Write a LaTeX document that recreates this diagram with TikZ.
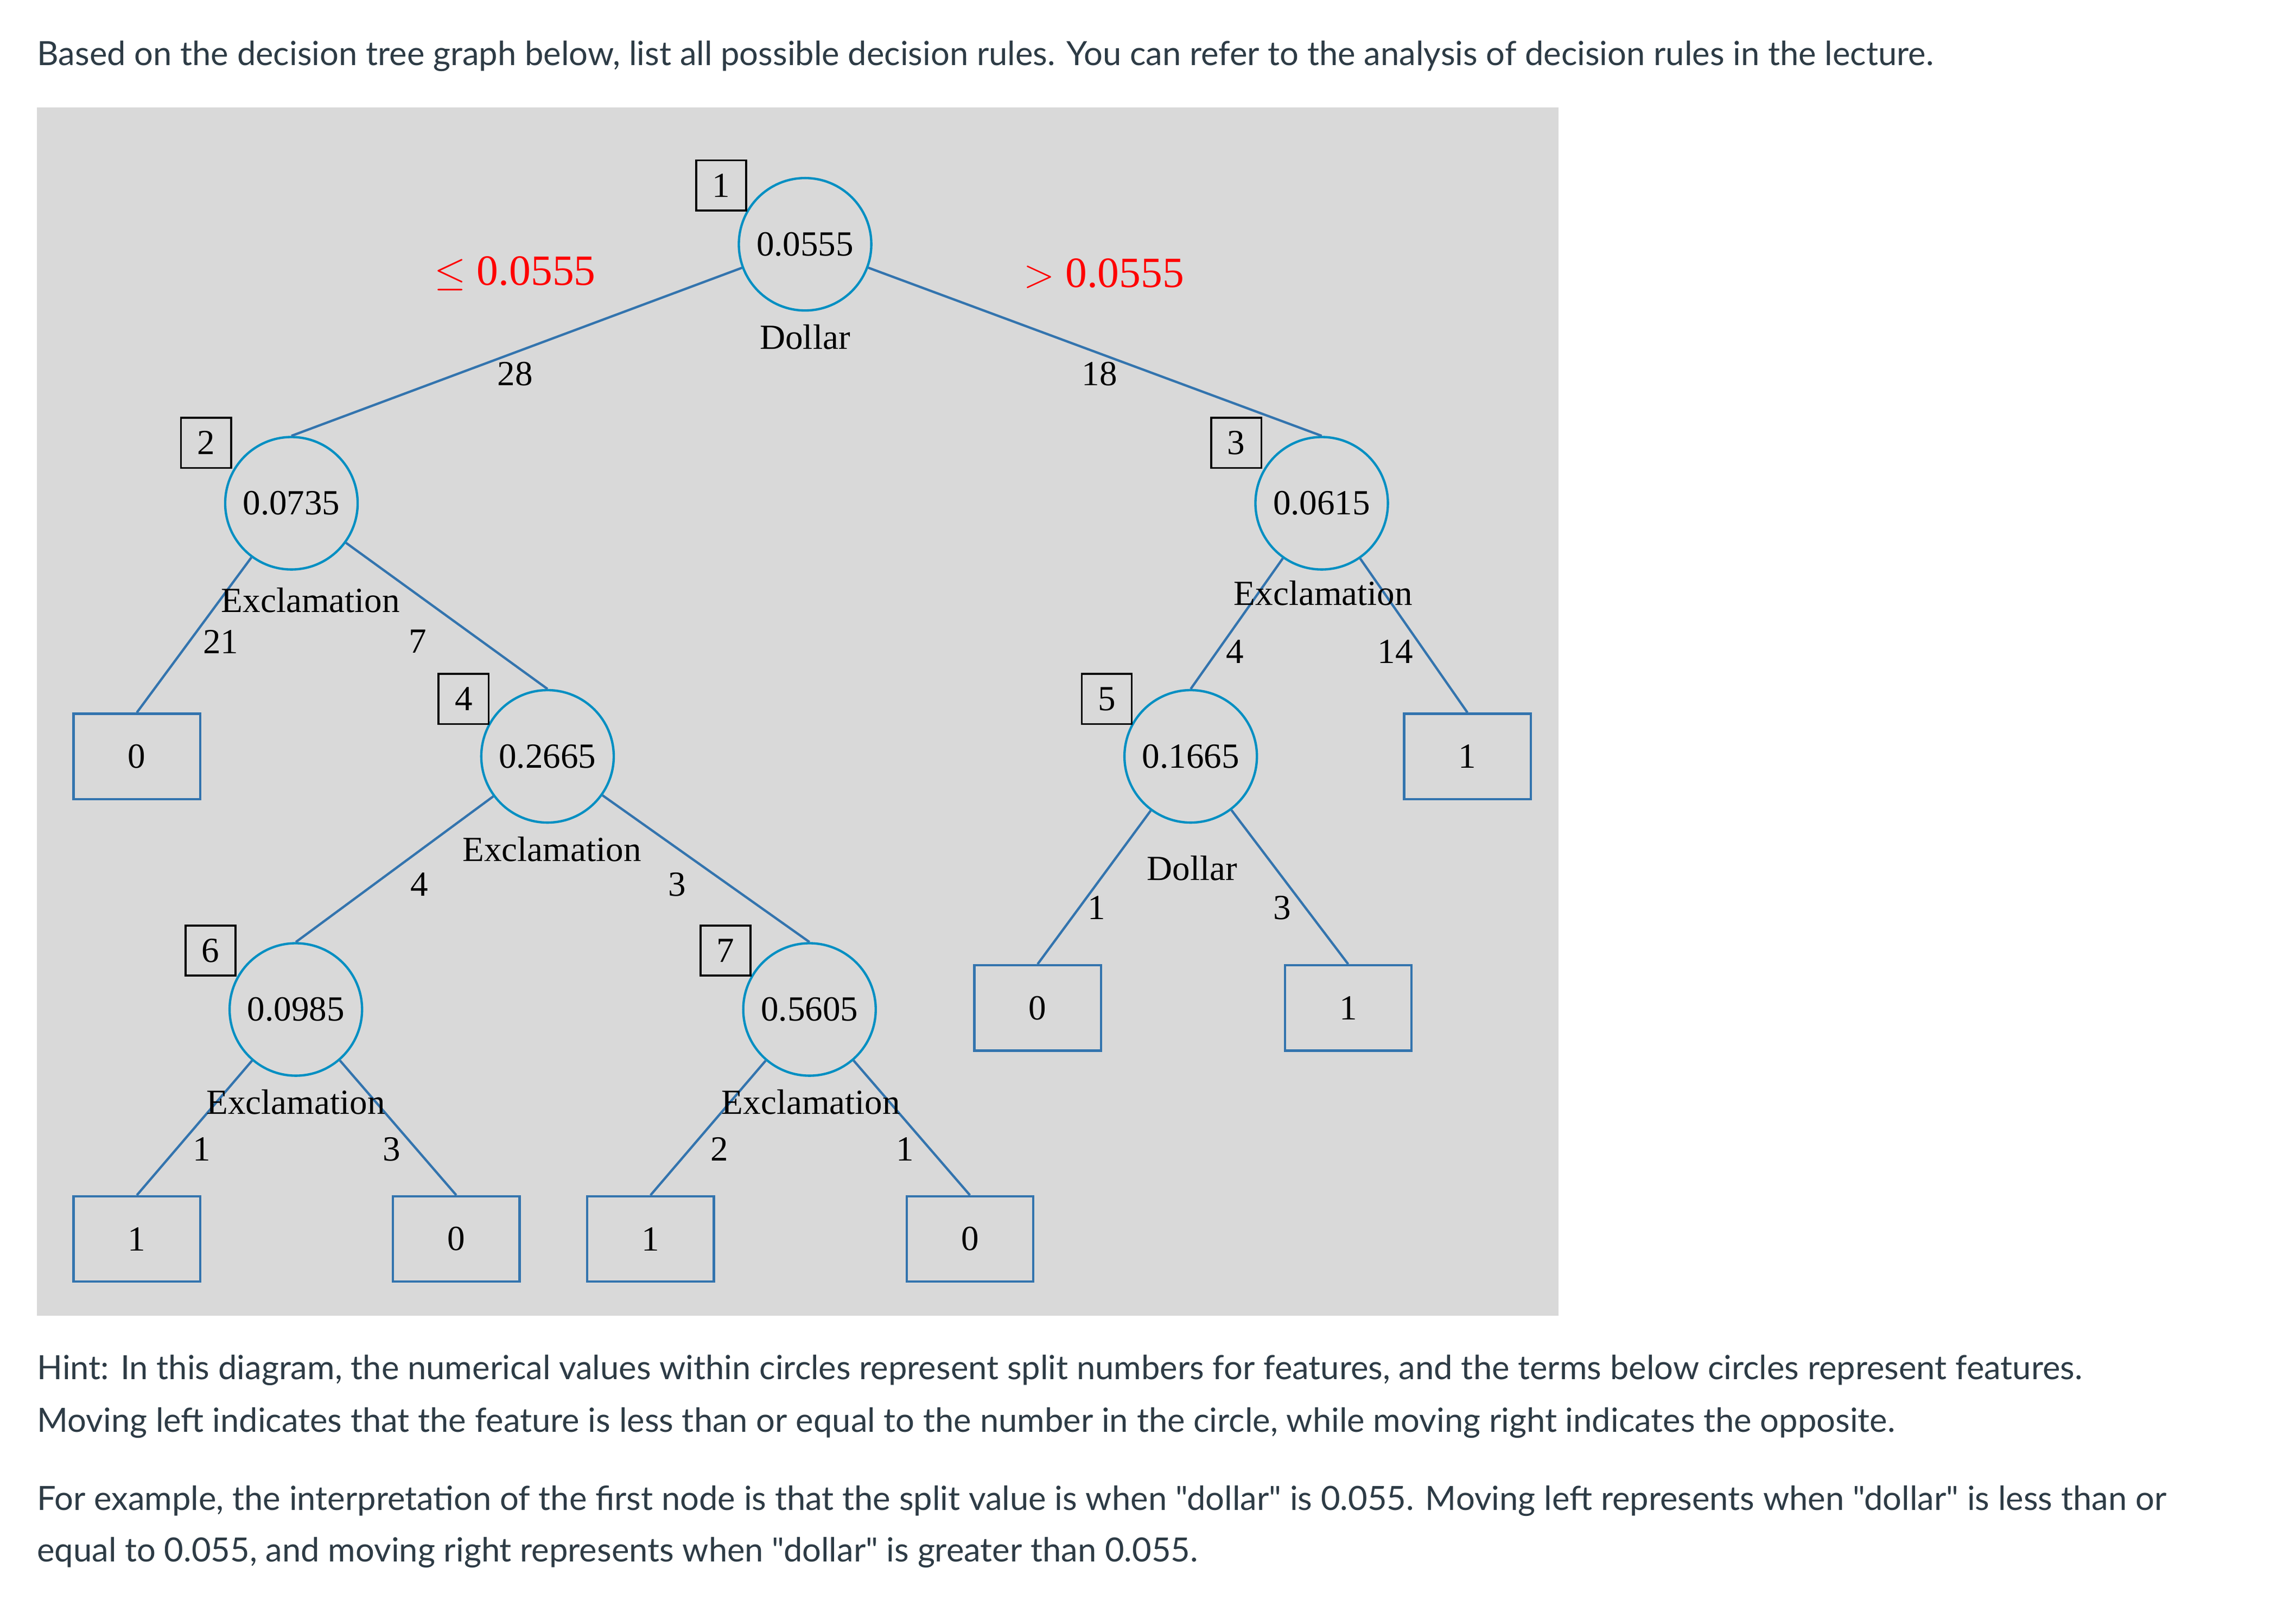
\documentclass[tikz,border=0pt]{standalone}
\usepackage{fontspec}
\setmainfont{Liberation Serif}
\newfontfamily\latofont{Lato}
\begin{document}
\begin{tikzpicture}[x=0.75pt,y=-0.75pt,
  circ/.style={circle,draw=teal!60!cyan!80!blue,line width=1.2pt,fill=none,minimum size=90*0.75pt,inner sep=0pt,font=\fontsize{18}{20}\selectfont},
  leaf/.style={rectangle,draw=cyan!60!blue!80!black,line width=1.2pt,minimum width=86*0.75pt,minimum height=58*0.75pt,inner sep=0pt,font=\fontsize{18}{20}\selectfont},
  idx/.style={rectangle,draw=black,line width=1pt,minimum size=34*0.75pt,inner sep=0pt,font=\fontsize{18}{20}\selectfont},
  lab/.style={font=\fontsize{18}{20}\selectfont,inner sep=0pt},
  red/.style={font=\fontsize{22}{24}\selectfont,text=red,inner sep=0pt},
  edge/.style={draw=cyan!60!blue!80!black,line width=1.2pt},
  body/.style={font=\latofont\fontsize{17}{20}\selectfont,text={rgb,255:red,45;green,59;blue,69},anchor=west,inner sep=0pt}]
\useasboundingbox (0,0) rectangle (1560,1087);
\fill[white] (0,0) rectangle (1560,1087);
\fill[gray!30] (25,73) rectangle (1059,894);
\node[body] (t1) at (25,38) {Based on the decision tree graph below, list all possible decision rules. You can refer to the analysis of decision rules in the lecture.};
\node[body] (t2) at (25,931) {Hint: In this diagram, the numerical values within circles represent split numbers for features, and the terms below circles represent features.};
\node[body] (t3) at (25,967) {Moving left indicates that the feature is less than or equal to the number in the circle, while moving right indicates the opposite.};
\node[body] (t4) at (25,1020) {For example, the interpretation of the first node is that the split value is when "dollar" is 0.055. Moving left represents when "dollar" is less than or};
\node[body] (t5) at (25,1055) {equal to 0.055, and moving right represents when "dollar" is greater than 0.055.};
% circles
\node[circ] (n1) at (547,166) {0.0555};
\node[circ] (n2) at (198,342) {0.0735};
\node[circ] (n3) at (898,342) {0.0615};
\node[circ] (n4) at (372,514) {0.2665};
\node[circ] (n5) at (809,514) {0.1665};
\node[circ] (n6) at (201,686) {0.0985};
\node[circ] (n7) at (550,686) {0.5605};
% leaves
\node[leaf] (a) at (93,514) {0};
\node[leaf] (b) at (997,514) {1};
\node[leaf] (c) at (705,685) {0};
\node[leaf] (d) at (916,685) {1};
\node[leaf] (e) at (93,842) {1};
\node[leaf] (f) at (310,842) {0};
\node[leaf] (g) at (442,842) {1};
\node[leaf] (h) at (659,842) {0};
% index boxes
\node[idx] (i1) at (490,126) {1};
\node[idx] (i2) at (140,301) {2};
\node[idx] (i3) at (840,301) {3};
\node[idx] (i4) at (315,475) {4};
\node[idx] (i5) at (752,475) {5};
\node[idx] (i6) at (143,646) {6};
\node[idx] (i7) at (493,646) {7};
% edges
\draw[edge] (n1) -- (n2.north);
\draw[edge] (n1) -- (n3.north);
\draw[edge] (n2) -- (a.north);
\draw[edge] (n2) -- (n4.north);
\draw[edge] (n3) -- (n5.north);
\draw[edge] (n3) -- (b.north);
\draw[edge] (n4) -- (n6.north);
\draw[edge] (n4) -- (n7.north);
\draw[edge] (n5) -- (c.north);
\draw[edge] (n5) -- (d.north);
\draw[edge] (n6) -- (e.north);
\draw[edge] (n6) -- (f.north);
\draw[edge] (n7) -- (g.north);
\draw[edge] (n7) -- (h.north);
% feature labels
\node[lab] (f1) at (547,229) {Dollar};
\node[lab] (f2) at (211,408) {Exclamation};
\node[lab] (f3) at (899,403) {Exclamation};
\node[lab] (f4) at (375,577) {Exclamation};
\node[lab] (f5) at (810,590) {Dollar};
\node[lab] (f6) at (201,749) {Exclamation};
\node[lab] (f7) at (551,749) {Exclamation};
% counts
\node[lab] (c1) at (350,254) {28};
\node[lab] (c2) at (747,254) {18};
\node[lab] (c3) at (150,436) {21};
\node[lab] (c4) at (284,436) {7};
\node[lab] (c5) at (839,443) {4};
\node[lab] (c6) at (948,443) {14};
\node[lab] (c7) at (285,601) {4};
\node[lab] (c8) at (460,601) {3};
\node[lab] (c9) at (745,617) {1};
\node[lab] (c10) at (871,617) {3};
\node[lab] (c11) at (137,781) {1};
\node[lab] (c12) at (266,781) {3};
\node[lab] (c13) at (489,781) {2};
\node[lab] (c14) at (615,781) {1};
\node[red] (r1) at (350,186) {$\leq$ 0.0555};
\node[red] (r2) at (750,186) {$>$ 0.0555};
\end{tikzpicture}
\end{document}
